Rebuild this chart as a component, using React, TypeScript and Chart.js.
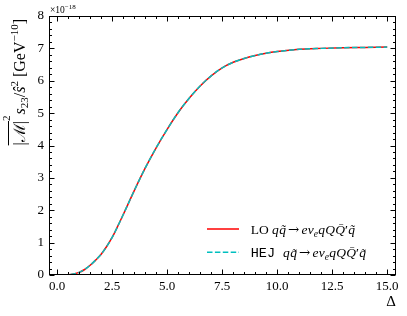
import React, { useEffect, useRef } from "react";
import { Chart, registerables } from "chart.js";

Chart.register(...registerables);

// ---- data (values in units of 1e-18) ----
const deltaValues = [0.25, 0.5, 0.75, 1, 1.25, 1.5, 1.75, 2, 2.25, 2.5, 2.75, 3, 3.5, 4, 4.5, 5, 5.5, 6, 6.5, 7, 7.5, 8, 8.5, 9, 9.5, 10, 11, 12, 13, 14, 15];
const loValues = [0, 0.005, 0.03, 0.08, 0.17, 0.3, 0.46, 0.64, 0.88, 1.16, 1.5, 1.86, 2.6, 3.3, 3.93, 4.5, 5.02, 5.46, 5.84, 6.15, 6.4, 6.57, 6.69, 6.78, 6.85, 6.9, 6.97, 7.0, 7.02, 7.03, 7.04];
const hejValues = [0, 0.005, 0.03, 0.08, 0.17, 0.3, 0.46, 0.64, 0.88, 1.16, 1.5, 1.86, 2.6, 3.3, 3.93, 4.5, 5.02, 5.46, 5.84, 6.15, 6.4, 6.57, 6.69, 6.78, 6.85, 6.9, 6.97, 7.0, 7.02, 7.03, 7.04];
const xTickValues = [0, 2.5, 5, 7.5, 10, 12.5, 15];
const yTickValues = [0, 1, 2, 3, 4, 5, 6, 7, 8];
const xMin = -0.37;
const xMax = 15.4;
const yMin = 0;
const yMax = 8;

const SERIF = '"Liberation Serif", "DejaVu Serif", serif';
const MONO = '"Liberation Mono", "DejaVu Sans Mono", monospace';
const ARROW = '"DejaVu Serif", serif';
const RED = "#ff0000";
const CYAN = "#00bfbf";

type Seg = { t: string; f: string; dy?: number; gap?: number };

function segsWidth(ctx: CanvasRenderingContext2D, segs: Seg[]) {
  let w = 0;
  for (const s of segs) {
    ctx.font = s.f;
    w += ctx.measureText(s.t).width + (s.gap || 0);
  }
  return w;
}

function drawSegs(ctx: CanvasRenderingContext2D, segs: Seg[], x: number, y: number, marks?: number[]) {
  let cx = x;
  segs.forEach((s, i) => {
    ctx.font = s.f;
    ctx.fillText(s.t, cx, y + (s.dy || 0));
    cx += ctx.measureText(s.t).width + (s.gap || 0);
    if (marks) marks[i] = cx;
  });
  return cx;
}

const decorPlugin = {
  id: "decor",
  afterDraw(chart: any) {
    const { ctx, chartArea: a, scales } = chart;
    const xs = scales.x;
    const ys = scales.y;
    ctx.save();
    ctx.strokeStyle = "#000";
    ctx.fillStyle = "#000";
    ctx.lineWidth = 1;
    const L = Math.round(a.left) + 0.5;
    const R = Math.round(a.right) - 0.5;
    const T = Math.round(a.top) + 0.5;
    const B = Math.round(a.bottom) - 0.5;
    ctx.strokeRect(L, T, R - L, B - T);

    const major = 5;
    const minor = 2.5;
    ctx.beginPath();
    for (let v = Math.ceil(xMin / 0.5) * 0.5; v <= xMax + 1e-9; v += 0.5) {
      const isMajor = xTickValues.some((t) => Math.abs(t - v) < 1e-6);
      const len = isMajor ? major : minor;
      const px = Math.round(xs.getPixelForValue(v)) + 0.5;
      ctx.moveTo(px, B);
      ctx.lineTo(px, B - len);
      ctx.moveTo(px, T);
      ctx.lineTo(px, T + len);
    }
    for (let k = 0; k <= 40; k++) {
      const v = yMin + k * 0.2;
      if (v > yMax + 1e-9) break;
      const isMajor = yTickValues.some((t) => Math.abs(t - v) < 1e-6);
      const len = isMajor ? major : minor;
      const py = Math.round(ys.getPixelForValue(v)) + 0.5;
      ctx.moveTo(L, py);
      ctx.lineTo(L + len, py);
      ctx.moveTo(R, py);
      ctx.lineTo(R - len, py);
    }
    ctx.stroke();

    ctx.textBaseline = "alphabetic";
    ctx.textAlign = "left";

    // offset text "×10^-18"
    drawSegs(ctx, [
      { t: "×10", f: `9.5px ${SERIF}` },
      { t: "−18", f: `7px ${SERIF}`, dy: -4 },
    ], a.left + 1, a.top - 3);

    // x-axis label
    ctx.font = `15px ${SERIF}`;
    ctx.textAlign = "center";
    ctx.fillText("Δ", a.right - 5, a.bottom + 31);
    ctx.textAlign = "left";

    // y-axis label (rotated, anchored at top)
    const fs = 16;
    const fsS = 11;
    const lab: Seg[] = [
      { t: "|", f: `${fs}px ${SERIF}` },
      { t: "ℳ", f: `${fs}px ${SERIF}` },
      { t: "|", f: `${fs}px ${SERIF}` },
      { t: "2", f: `${fsS}px ${SERIF}`, dy: -15, gap: 1 },
      { t: "s", f: `italic ${fs}px ${SERIF}` },
      { t: "23", f: `${fsS}px ${SERIF}`, dy: 3 },
      { t: "/", f: `${fs}px ${SERIF}` },
      { t: "ŝ", f: `italic ${fs}px ${SERIF}` },
      { t: "2", f: `${fsS}px ${SERIF}`, dy: -7 },
      { t: " [GeV", f: `${fs}px ${SERIF}` },
      { t: "−10", f: `${fsS}px ${SERIF}`, dy: -7 },
      { t: "]", f: `${fs}px ${SERIF}` },
    ];
    const W = segsWidth(ctx, lab);
    ctx.save();
    ctx.translate(25, a.top + 3);
    ctx.rotate(-Math.PI / 2);
    const marks: number[] = [];
    drawSegs(ctx, lab, -W, 0, marks);
    ctx.beginPath();
    ctx.lineWidth = 1;
    ctx.moveTo(-W, -16.5);
    ctx.lineTo(marks[2], -16.5);
    ctx.stroke();
    ctx.restore();

    // legend
    const lf = 13.5;
    const lfS = 9.5;
    const it = `italic ${lf}px ${SERIF}`;
    const rm = `${lf}px ${SERIF}`;
    const proc = (): Seg[] => [
      { t: "q", f: it, gap: 0.5 },
      { t: "q̃", f: it, gap: 2 },
      { t: "→", f: `${lf}px ${ARROW}`, gap: 2 },
      { t: "e", f: it, gap: 0.3 },
      { t: "ν", f: it },
      { t: "e", f: `italic ${lfS}px ${SERIF}`, dy: 3, gap: 0.3 },
      { t: "q", f: it, gap: 0.3 },
      { t: "Q", f: it, gap: 0.3 },
      { t: "Q̄", f: it },
      { t: "′", f: rm, gap: 0.3 },
      { t: "q̃", f: it },
    ];
    const rows = [
      { y: a.bottom - 46, color: RED, dash: [] as number[], head: { t: "LO ", f: rm } },
      { y: a.bottom - 22.7, color: CYAN, dash: [5.5, 2.4], head: { t: "HEJ ", f: `${lf}px ${MONO}` } },
    ];
    const lx0 = a.right - 189;
    const lx1 = a.right - 157;
    const tx = a.right - 145.3;
    rows.forEach((r) => {
      ctx.save();
      ctx.strokeStyle = r.color;
      ctx.lineWidth = 1.5;
      ctx.setLineDash(r.dash);
      ctx.beginPath();
      ctx.moveTo(lx0, r.y);
      ctx.lineTo(lx1, r.y);
      ctx.stroke();
      ctx.restore();
      ctx.fillStyle = "#000";
      drawSegs(ctx, [r.head, ...proc()], tx, r.y + 5);
    });

    ctx.restore();
  },
};

export default function App() {
  const ref = useRef<HTMLCanvasElement | null>(null);
  useEffect(() => {
    if (!ref.current) return;
    const chart = new Chart(ref.current, {
      type: "line",
      data: {
        datasets: [
          {
            label: "LO",
            data: deltaValues.map((d, i) => ({ x: d, y: loValues[i] })),
            borderColor: RED,
            borderWidth: 1.5,
            pointRadius: 0,
            cubicInterpolationMode: "monotone",
            fill: false,
            order: 2,
          },
          {
            label: "HEJ",
            data: deltaValues.map((d, i) => ({ x: d, y: hejValues[i] })),
            borderColor: CYAN,
            borderWidth: 1.5,
            borderDash: [5.5, 2.4],
            pointRadius: 0,
            cubicInterpolationMode: "monotone",
            fill: false,
            order: 1,
          },
        ],
      },
      options: {
        animation: false,
        responsive: false,
        devicePixelRatio: 1,
        layout: { padding: { top: 16, right: 11, left: 0, bottom: 0 } },
        plugins: {
          legend: { display: false },
          tooltip: { enabled: false },
        },
        scales: {
          x: {
            type: "linear",
            min: xMin,
            max: xMax,
            grid: { display: false, drawTicks: false },
            border: { display: false },
            ticks: {
              color: "#000",
              font: { family: SERIF, size: 13 },
              padding: 4,
              autoSkip: false,
              maxRotation: 0,
              callback: (v: any) => Number(v).toFixed(1),
            },
            afterBuildTicks: (s: any) => {
              s.ticks = xTickValues.map((v) => ({ value: v }));
            },
            afterFit: (s: any) => {
              s.height = 41;
            },
          },
          y: {
            type: "linear",
            min: yMin,
            max: yMax,
            grid: { display: false, drawTicks: false },
            border: { display: false },
            ticks: {
              color: "#000",
              font: { family: SERIF, size: 13 },
              padding: 5,
              autoSkip: false,
              callback: (v: any) => String(v),
            },
            afterBuildTicks: (s: any) => {
              s.ticks = yTickValues.map((v) => ({ value: v }));
            },
            afterFit: (s: any) => {
              s.width = 49;
            },
          },
        },
      },
      plugins: [decorPlugin],
    } as any);
    return () => chart.destroy();
  }, []);
  return (
    <div style={{ position: "absolute", left: 0, top: 0, width: 407, height: 316, background: "#fff" }}>
      <canvas ref={ref} width={407} height={316} style={{ display: "block" }} />
    </div>
  );
}
